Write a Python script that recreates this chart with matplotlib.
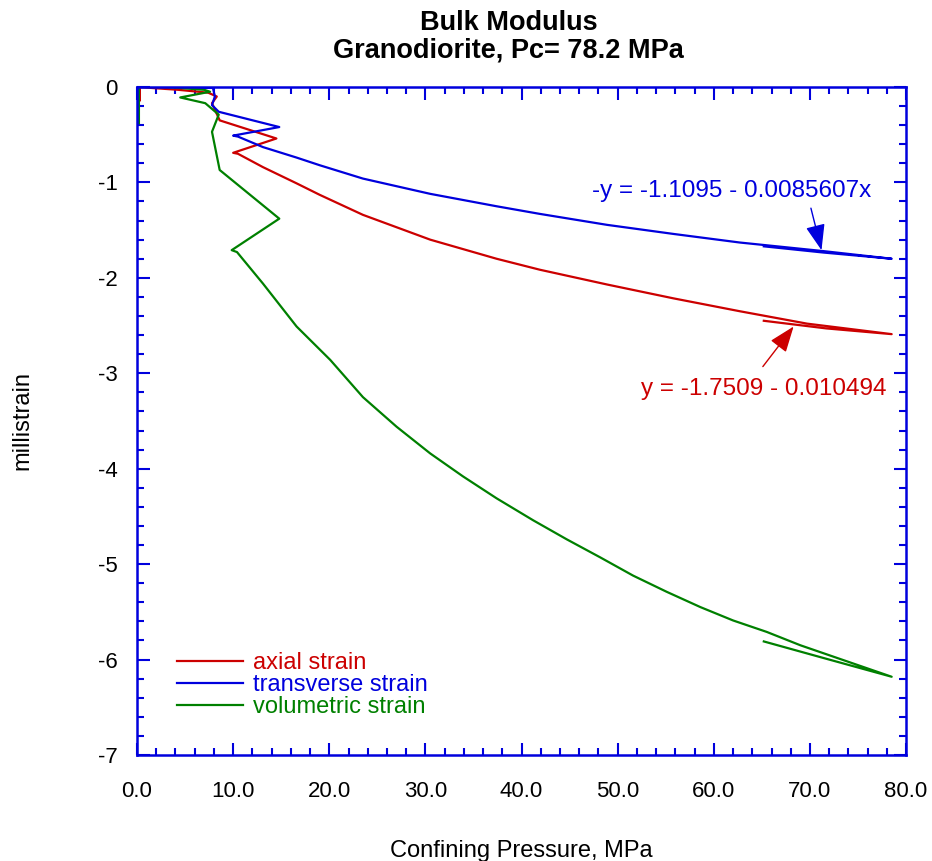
import matplotlib
matplotlib.use("Agg")
import matplotlib.pyplot as plt
from matplotlib.ticker import MultipleLocator, FormatStrFormatter

plt.rcParams['font.family'] = ['Liberation Sans', 'DejaVu Sans']
plt.rcParams['axes.unicode_minus'] = False

# ==========================================
# strain vs confining pressure (load to 78.2 MPa, partial unload)
# ==========================================

axial_p = [0.3, 0.3, 0.0, 4.3, 7.4, 8.3, 7.8, 8.6, 14.5, 10.0, 10.5, 13.1, 16.6, 19.0,
           23.5, 30.5, 37.4, 41.9, 48.9, 55.8, 62.7, 69.7, 78.5, 71.7, 65.2]
axial_e = [-0.14, -0.02, 0.0, -0.03, -0.06, -0.10, -0.17, -0.35, -0.54, -0.69, -0.70, -0.84, -1.01, -1.13,
           -1.34, -1.60, -1.80, -1.915, -2.07, -2.215, -2.35, -2.48, -2.59, -2.53, -2.45]

trans_p = [0.0, 3.0, 6.5, 7.9, 8.1, 7.8, 8.5, 14.8, 10.0, 10.5, 13.1, 16.6, 19.0,
           23.5, 30.5, 37.4, 41.9, 48.9, 55.8, 62.7, 71.4, 78.5, 71.4, 65.2]
trans_e = [0.0, 0.0, -0.01, -0.01, -0.10, -0.19, -0.26, -0.42, -0.51, -0.52, -0.63, -0.74, -0.82,
           -0.96, -1.12, -1.25, -1.33, -1.445, -1.54, -1.63, -1.72, -1.80, -1.735, -1.67]

vol_p = [0.2, 0.2, 3.0, 7.0, 7.6, 4.5, 7.1, 8.5, 7.8, 8.6, 14.8, 9.85, 10.4, 13.1, 16.6,
         20.1, 23.5, 27.0, 30.5, 33.9, 37.4, 41.2, 44.7, 48.2, 51.6, 55.1, 58.6, 62.0,
         65.5, 69.0, 78.5, 72.0, 65.2]
vol_e = [-0.38, 0.0, 0.0, -0.03, -0.05, -0.11, -0.17, -0.29, -0.47, -0.87, -1.38, -1.71, -1.73, -2.06, -2.51,
         -2.86, -3.25, -3.56, -3.84, -4.08, -4.31, -4.54, -4.74, -4.93, -5.12, -5.29, -5.45, -5.59,
         -5.71, -5.85, -6.18, -6.00, -5.81]

labels = ['axial strain', 'transverse strain', 'volumetric strain']

# linear fits over the unloading segment
fit_trans = '-y = -1.1095 - 0.0085607x'
fit_axial = 'y = -1.7509 - 0.010494'

RED = '#CC0000'
BLUE = '#0000DD'
GREEN = '#008000'

fig = plt.figure(figsize=(9.32, 8.61), dpi=100)
ax = fig.add_axes([0.147, 0.1231, 0.8252, 0.7759])

ax.plot(axial_p, axial_e, color=RED, lw=1.6, label=labels[0])
ax.plot(trans_p, trans_e, color=BLUE, lw=1.6, label=labels[1])
ax.plot(vol_p, vol_e, color=GREEN, lw=1.6, label=labels[2])

ax.set_xlim(0, 80)
ax.set_ylim(-7, 0)
ax.xaxis.set_major_locator(MultipleLocator(10))
ax.xaxis.set_minor_locator(MultipleLocator(2))
ax.yaxis.set_major_locator(MultipleLocator(1))
ax.yaxis.set_minor_locator(MultipleLocator(0.2))
ax.xaxis.set_major_formatter(FormatStrFormatter('%.1f'))
ax.yaxis.set_major_formatter(FormatStrFormatter('%d'))

ax.tick_params(which='both', direction='in', top=True, right=True, color=BLUE, width=1.5)
ax.tick_params(which='major', length=9)
ax.tick_params(which='minor', length=5)
ax.tick_params(axis='x', pad=19, labelsize=16)
ax.tick_params(axis='y', pad=14, labelsize=16)
for s in ax.spines.values():
    s.set_color(BLUE)
    s.set_linewidth(1.8)

ax.set_xlabel('Confining Pressure, MPa', fontsize=17)
ax.set_ylabel('millistrain', fontsize=17)
ax.xaxis.set_label_coords(0.5, -0.127)
ax.yaxis.set_label_coords(-0.135, 0.5)

# fit labels with arrows onto the unloading branch
ax.text(61.85, -1.09, fit_trans, color=BLUE, fontsize=17.5, ha='center', va='center')
ax.annotate('', xy=(71.2, -1.71), xytext=(70.1, -1.27),
            arrowprops=dict(arrowstyle='-|>,head_length=0.8,head_width=0.3', color=BLUE,
                            lw=1, mutation_scale=20, shrinkA=0, shrinkB=0))
ax.text(65.15, -3.165, fit_axial, color=RED, fontsize=17.5, ha='center', va='center')
ax.annotate('', xy=(68.3, -2.51), xytext=(65.1, -2.93),
            arrowprops=dict(arrowstyle='-|>,head_length=0.8,head_width=0.3', color=RED,
                            lw=1, mutation_scale=20, shrinkA=0, shrinkB=0))

leg = ax.legend(loc='lower left', bbox_to_anchor=(0.052, 0.055), frameon=False, fontsize=17,
                handlelength=2.8, handletextpad=0.4, labelspacing=0.0,
                borderpad=0, borderaxespad=0)
for txt, line in zip(leg.get_texts(), leg.get_lines()):
    txt.set_color(line.get_color())

fig.text(0.546, 1 - 30 / 861, 'Bulk Modulus', ha='center', va='baseline',
         fontsize=19.5, fontweight='bold')
fig.text(0.546, 1 - 57 / 861, 'Granodiorite, Pc= 78.2 MPa', ha='center', va='baseline',
         fontsize=19.5, fontweight='bold')

fig.savefig('out.png', dpi=100)
